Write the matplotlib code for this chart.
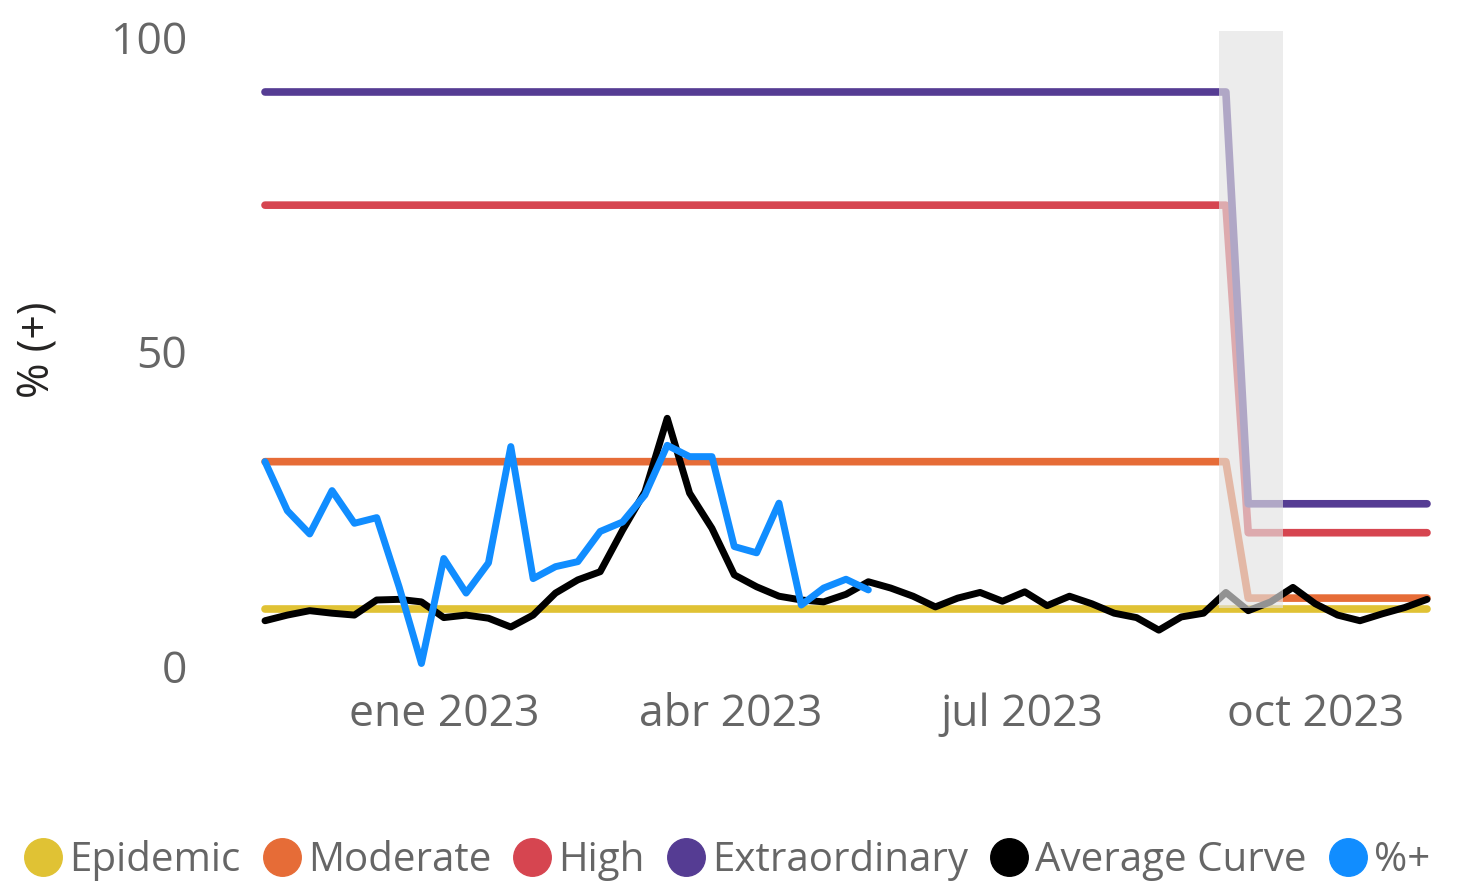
import matplotlib

matplotlib.use("Agg")
import matplotlib.pyplot as plt
import pandas as pd
from matplotlib.lines import Line2D

plt.rcParams["font.family"] = ["Open Sans", "DejaVu Sans"]

# weekly series, Sunday-based weeks
weeks = pd.date_range("2022-11-06", periods=53, freq="7D")

# threshold levels per week (recomputed at the start of September)
epidemic = [9.1] * 44 + [9.1] * 9
moderate = [32.5] * 44 + [10.8] * 9
high = [73.3] * 44 + [21.2] * 9
extraordinary = [91.3] * 44 + [25.8] * 9

average_curve = [
    7.2, 8.1, 8.8, 8.4, 8.1, 10.5, 10.6, 10.2, 7.7, 8.1,
    7.6, 6.2, 8.1, 11.6, 13.7, 15.0, 21.6, 27.7, 39.4, 27.5,
    21.9, 14.5, 12.6, 11.1, 10.5, 10.2, 11.4, 13.4, 12.4, 11.1,
    9.4, 10.8, 11.7, 10.3, 11.8, 9.6, 11.1, 9.9, 8.4, 7.7,
    5.7, 7.8, 8.4, 11.7, 8.8, 10.2, 12.5, 9.9, 8.1, 7.2,
    8.3, 9.3, 10.6,
]

# % positive, reported for the first 28 weeks only
pct_positive = [
    32.5, 24.7, 21.0, 27.9, 22.7, 23.6, 12.6, 0.4, 17.1, 11.6,
    16.4, 34.9, 13.9, 15.8, 16.6, 21.4, 22.9, 27.2, 35.1, 33.3,
    33.3, 19.0, 18.0, 25.9, 9.7, 12.4, 13.8, 12.1,
]

series_names = ["Epidemic", "Moderate", "High", "Extraordinary", "Average Curve", "%+"]
series_colors = ["#E0C234", "#E66C37", "#D64550", "#553C93", "#000000", "#118DFF"]

tick_dates = pd.to_datetime(["2023-01-01", "2023-04-01", "2023-07-01", "2023-10-01"])
tick_labels = ["ene 2023", "abr 2023", "jul 2023", "oct 2023"]

shade_start = pd.Timestamp("2023-09-01")
shade_end = pd.Timestamp("2023-09-21")

fig = plt.figure(figsize=(14.67, 8.88), dpi=100)
ax = fig.add_axes([265 / 1467, 1 - 666 / 888, (1427 - 265) / 1467, (666 - 31) / 888])

line_kw = dict(solid_capstyle="round", solid_joinstyle="round", clip_on=False)
ax.plot(weeks, epidemic, color=series_colors[0], lw=5.5, zorder=2, **line_kw)
ax.plot(weeks, moderate, color=series_colors[1], lw=5.5, zorder=2, **line_kw)
ax.plot(weeks, high, color=series_colors[2], lw=5.5, zorder=2, **line_kw)
ax.plot(weeks, extraordinary, color=series_colors[3], lw=5.5, zorder=2, **line_kw)
ax.plot(weeks, average_curve, color=series_colors[4], lw=5.0, zorder=3, **line_kw)
ax.plot(weeks[: len(pct_positive)], pct_positive, color=series_colors[5], lw=5.0,
        zorder=4, **line_kw)

ymax = 101
ax.axvspan(shade_start, shade_end, ymin=9.3 / ymax, ymax=1, color="#E2E2E2",
           alpha=0.65, lw=0, zorder=5)

ax.set_xlim(weeks[0], weeks[-1])
ax.set_ylim(0, ymax)
ax.set_yticks([0, 50, 100])
ax.set_xticks(tick_dates)
ax.set_xticklabels(tick_labels)
ax.tick_params(axis="both", length=0, labelsize=32, labelcolor="#666666")
ax.tick_params(axis="y", pad=56)
ax.tick_params(axis="x", pad=19)
for s in ax.spines.values():
    s.set_visible(False)

fig.text(38 / 1467, 1 - 350 / 888, "% (+)", rotation=90, ha="center", va="center",
         fontsize=31, color="#252423")

handles = [
    Line2D([], [], marker="o", linestyle="none", markersize=27, color=c)
    for c in series_colors
]
leg = fig.legend(handles, series_names, loc="center", bbox_to_anchor=(0.494, 0.031),
                 ncol=6, frameon=False, fontsize=29, handletextpad=0.05,
                 columnspacing=0.42, handlelength=1.2, borderaxespad=0)
for t in leg.get_texts():
    t.set_color("#666666")

fig.savefig("out.png", dpi=100)
